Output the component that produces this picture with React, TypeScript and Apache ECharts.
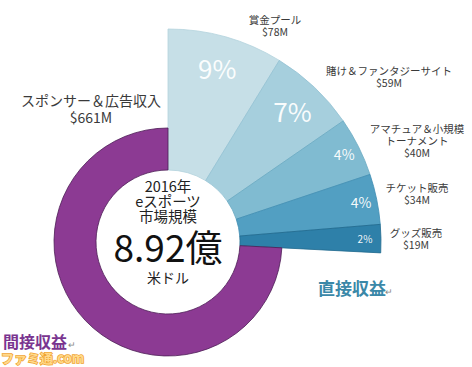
import React, { useEffect, useRef } from "react";
import * as echarts from "echarts";

// ---- data ----
const directNames = [
  "賞金プール",
  "賭け＆ファンタジーサイト",
  "アマチュア＆小規模\nトーナメント",
  "チケット販売",
  "グッズ販売",
];
const directValues = [78, 59, 40, 34, 19]; // $M
const indirectName = "スポンサー＆広告収入";
const indirectValue = 661; // $M
const centerLines = ["2016年", "eスポーツ", "市場規模"];
const totalText = "8.92億";
const unitText = "米ドル";
const directTitle = "直接収益";
const indirectTitle = "間接収益";

// ---- styles / layout (not data) ----
const directColors = ["#c6dfe7", "#a6cfdd", "#80bbd1", "#529fc2", "#2e80a9"];
const directBorders = ["#b4d3dd", "#93c2d3", "#6aa9c2", "#3f8db2", "#216a8e"];
const purple = "#8c3a93";
const FONT = "'Noto Sans CJK JP', 'Noto Sans', sans-serif";
const CX = 168;
const CY = 242;
const nameLabelPos: [number, number][] = [
  [275, 25],
  [389, 76],
  [417, 140],
  [417, 193],
  [416, 238],
];
const indirectLabelPos: [number, number] = [91, 108];
const pctFont = [26, 26, 14, 14, 10];

export default function App() {
  const ref = useRef<HTMLDivElement>(null);
  useEffect(() => {
    if (!ref.current) return;
    const chart = echarts.init(ref.current, null, { renderer: "svg" });
    const directSum = directValues.reduce((a, b) => a + b, 0);
    const hidden = {
      value: indirectValue,
      itemStyle: { color: "transparent", borderWidth: 0 },
      label: { show: false },
      emphasis: { disabled: true },
    };

    const pctSeries = (which: number[], radius: [number, number]) => ({
      type: "pie",
      center: [CX, CY],
      radius,
      startAngle: 90,
      clockwise: true,
      silent: true,
      percentPrecision: 0,
      labelLine: { show: false },
      data: [
        ...directValues.map((v, i) => ({
          value: v,
          name: directNames[i],
          itemStyle: { color: "transparent", borderWidth: 0 },
          label: {
            show: which.includes(i),
            position: "inside",
            formatter: "{d}%",
            color: "rgba(255,255,255,0.95)",
            fontSize: pctFont[i],
            fontFamily: FONT,
          },
        })),
        hidden,
      ],
    });

    const nameText = (text: string, pos: [number, number], size: number, lh: number) => ({
      type: "text",
      x: pos[0],
      y: pos[1],
      silent: true,
      style: {
        text,
        fill: "#3a3a3a",
        font: `${size}px ${FONT}`,
        lineHeight: lh,
        textAlign: "center",
        textVerticalAlign: "middle",
      },
    });

    chart.setOption({
      animation: false,
      backgroundColor: "#ffffff",
      series: [
        {
          type: "pie",
          center: [CX, CY],
          radius: [72, 213],
          startAngle: 90,
          clockwise: true,
          silent: true,
          label: { show: false },
          labelLine: { show: false },
          data: [
            ...directValues.map((v, i) => ({
              value: v,
              name: directNames[i],
              itemStyle: {
                color: directColors[i],
                borderColor: directBorders[i],
                borderWidth: 0.8,
              },
            })),
            hidden,
          ],
        },
        {
          type: "pie",
          center: [CX, CY],
          radius: [72, 114],
          startAngle: 90,
          clockwise: true,
          silent: true,
          label: { show: false },
          labelLine: { show: false },
          data: [
            {
              value: directSum,
              itemStyle: { color: "transparent", borderWidth: 0 },
            },
            {
              value: indirectValue,
              name: indirectName,
              itemStyle: { color: purple, borderColor: "#4d1d55", borderWidth: 0.8 },
            },
          ],
        },
        pctSeries([0, 1], [143, 213]),
        pctSeries([2, 3, 4], [175, 213]),
      ],
      graphic: [
        ...directValues.map((v, i) =>
          nameText(`${directNames[i]}\n$${v}M`, nameLabelPos[i], 10.5, 12)
        ),
        nameText(`${indirectName}\n$${indirectValue}M`, indirectLabelPos, 14, 17),
        {
          type: "text",
          x: CX,
          y: 200,
          silent: true,
          style: {
            text: centerLines.join("\n"),
            fill: "#222",
            font: `14.5px ${FONT}`,
            lineHeight: 15,
            textAlign: "center",
            textVerticalAlign: "middle",
          },
        },
        {
          type: "text",
          x: CX,
          y: 246,
          silent: true,
          style: {
            text: totalText,
            fill: "#111",
            font: `37px ${FONT}`,
            lineHeight: 32,
            textAlign: "center",
            textVerticalAlign: "middle",
          },
        },
        {
          type: "text",
          x: CX,
          y: 277,
          silent: true,
          style: {
            text: unitText,
            fill: "#222",
            font: `14px ${FONT}`,
            lineHeight: 14,
            textAlign: "center",
            textVerticalAlign: "middle",
          },
        },
        {
          type: "text",
          x: 318,
          y: 287,
          style: {
            text: directTitle,
            fill: "#3a88a8",
            font: `bold 17px ${FONT}`,
            textVerticalAlign: "middle",
          },
        },
        {
          type: "text",
          x: 385,
          y: 291,
          style: { text: "↵", fill: "#888", font: `9px ${FONT}`, textVerticalAlign: "middle" },
        },
        {
          type: "text",
          x: 3,
          y: 341,
          style: {
            text: indirectTitle,
            fill: "#7a3590",
            font: `bold 16px ${FONT}`,
            textVerticalAlign: "middle",
          },
        },
        {
          type: "text",
          x: 68,
          y: 344,
          style: { text: "↵", fill: "#888", font: `9px ${FONT}`, textVerticalAlign: "middle" },
        },
        {
          type: "text",
          x: 1,
          y: 357,
          style: {
            text: "ファミ通.com",
            fill: "#ffd98a",
            stroke: "#f0a330",
            lineWidth: 1.5,
            font: `bold 13px ${FONT}`,
            lineHeight: 14,
            textVerticalAlign: "middle",
          },
        },
      ],
    });
    return () => chart.dispose();
  }, []);
  return (
    <div
      ref={ref}
      style={{ position: "absolute", left: 0, top: 0, width: 472, height: 367 }}
    />
  );
}
